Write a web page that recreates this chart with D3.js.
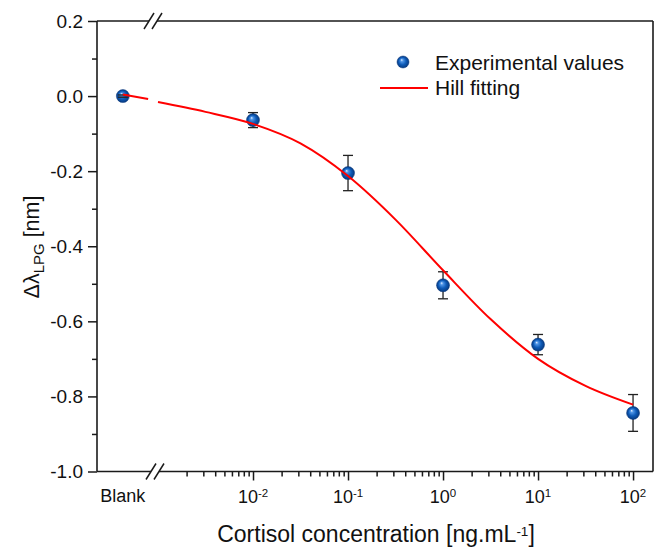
<!DOCTYPE html>
<html><head><meta charset="utf-8">
<script src="https://cdn.jsdelivr.net/npm/d3@7"></script>
<style>
body{margin:0;background:#fff}
svg{display:block}
text{font-family:"Liberation Sans",Arial,sans-serif;fill:#111}
</style>
</head><body>
<svg id="c" width="661" height="548"></svg>
<script>
// ---------------- data ----------------
const blankLabel = "Blank";
const blankValue = 0.0;
const blankError = 0.003;
const concentrations = [0.01, 0.1, 1, 10, 100];
const values = [-0.064, -0.205, -0.504, -0.662, -0.844];
const errors = [0.020, 0.047, 0.036, 0.027, 0.049];
// Hill fitting curve (every half decade)
const fitConc = [0.001, 0.00316, 0.01, 0.0316, 0.1, 0.316, 1, 3.16, 10, 31.6, 100];
const fitValues = [-0.016, -0.042, -0.074, -0.126, -0.213, -0.329, -0.464, -0.594, -0.700, -0.772, -0.822];
const blankFitValues = [0.004, -0.008];
const yTickValues = [-1.0, -0.8, -0.6, -0.4, -0.2, 0.0, 0.2];
const yMinorValues = [-0.9, -0.7, -0.5, -0.3, -0.1, 0.1];
const xTickExponents = [-2, -1, 0, 1, 2];
const legendLabels = ["Experimental values", "Hill fitting"];
const xTitle = "Cortisol concentration [ng.mL";
const yTitleParts = ["\u0394\u03bb", "LPG", " [nm]"];

// ---------------- layout ----------------
const L = 97, R = 653, T = 21, B = 471.5, BRK = 154;
const svg = d3.select("#c");
const axisColor = "#1a1a1a";

const y = d3.scaleLinear().domain([-1.0, 0.2]).range([B, T]);
const x = d3.scaleLog().domain([1e-3, Math.pow(10, 2.21)]).range([158, R]);
const xb = d3.scaleLinear().domain([0, 1]).range([L, BRK - 2]);
const blankPos = 0.47, blankFitEnd = 0.93;

const defs = svg.append("defs");
const g = defs.append("radialGradient").attr("id", "ball")
  .attr("cx", "50%").attr("cy", "50%").attr("r", "50%").attr("fx", "38%").attr("fy", "32%");
g.append("stop").attr("offset", "0%").attr("stop-color", "#e6f0ff");
g.append("stop").attr("offset", "22%").attr("stop-color", "#4f95e6");
g.append("stop").attr("offset", "60%").attr("stop-color", "#0e5bb8");
g.append("stop").attr("offset", "100%").attr("stop-color", "#073a80");

// ---------------- frame ----------------
const frame = svg.append("g").attr("stroke", axisColor).attr("stroke-width", 1.6).attr("fill", "none");
frame.append("line").attr("x1", L).attr("x2", L).attr("y1", T).attr("y2", B);
frame.append("line").attr("x1", R).attr("x2", R).attr("y1", T).attr("y2", B);
frame.append("line").attr("x1", L).attr("x2", R).attr("y1", T).attr("y2", T);
frame.append("line").attr("x1", L).attr("x2", R).attr("y1", B).attr("y2", B);

// y axis
const yAxis = d3.axisLeft(y).tickValues(yTickValues).tickSize(9).tickPadding(5)
  .tickFormat(d => d.toFixed(1).replace("-0.0", "0.0"));
const ya = svg.append("g").attr("transform", `translate(${L},0)`).call(yAxis);
ya.select(".domain").remove();
ya.selectAll(".tick line").attr("stroke", axisColor).attr("stroke-width", 1.5);
ya.selectAll(".tick text").attr("font-size", 19).attr("fill", "#111")
  .attr("font-family", "Liberation Sans, Arial, sans-serif");
const yMinor = d3.axisLeft(y).tickValues(yMinorValues).tickSize(5).tickFormat("");
const ym = svg.append("g").attr("transform", `translate(${L},0)`).call(yMinor);
ym.select(".domain").remove();
ym.selectAll(".tick line").attr("stroke", axisColor).attr("stroke-width", 1.5);

// x axis (log part)
const majors = xTickExponents.map(e => Math.pow(10, e));
const minors = [];
for (let e = -3; e <= 1; e++) for (let m = 2; m <= 9; m++) minors.push(m * Math.pow(10, e));
const xa = svg.append("g").attr("transform", `translate(0,${B})`)
  .call(d3.axisBottom(x).tickValues(majors).tickSize(9).tickFormat(""));
xa.select(".domain").remove();
xa.selectAll(".tick line").attr("stroke", axisColor).attr("stroke-width", 1.5);
const xm = svg.append("g").attr("transform", `translate(0,${B})`)
  .call(d3.axisBottom(x).tickValues(minors).tickSize(5).tickFormat(""));
xm.select(".domain").remove();
xm.selectAll(".tick line").attr("stroke", axisColor).attr("stroke-width", 1.5);

// x tick labels with superscripts
xTickExponents.forEach(e => {
  const t = svg.append("text").attr("x", x(Math.pow(10, e))).attr("y", B + 31.5)
    .attr("text-anchor", "middle").attr("font-size", 18);
  t.append("tspan").text("10");
  t.append("tspan").attr("dy", -6).attr("font-size", 11.5).text(String(e));
});
svg.append("text").attr("x", xb(blankPos)).attr("y", B + 30.5).attr("text-anchor", "middle")
  .attr("font-size", 18).text(blankLabel);

// axis breaks
function brk(cx, cy) {
  svg.append("rect").attr("x", cx - 4).attr("y", cy - 2).attr("width", 8).attr("height", 4).attr("fill", "#fff");
  [-4, 4].forEach(o => {
    svg.append("line").attr("x1", cx + o - 5).attr("y1", cy + 8).attr("x2", cx + o + 5).attr("y2", cy - 8)
      .attr("stroke", axisColor).attr("stroke-width", 1.5);
  });
}
brk(BRK - 1, T);
brk(BRK + 1, B);

// ---------------- data marks ----------------
const pts = concentrations.map((c, i) => ({ px: x(c), v: values[i], e: errors[i] }));
pts.unshift({ px: xb(blankPos), v: blankValue, e: blankError });

// error-bar stems (behind symbols)
svg.append("g").selectAll("line").data(pts).join("line")
  .attr("x1", d => d.px).attr("x2", d => d.px)
  .attr("y1", d => y(d.v + d.e)).attr("y2", d => y(d.v - d.e))
  .attr("stroke", "#222").attr("stroke-width", 1.3);

// symbols
svg.append("g").selectAll("circle").data(pts).join("circle")
  .attr("cx", d => d.px).attr("cy", d => y(d.v)).attr("r", 6.5)
  .attr("fill", "url(#ball)").attr("stroke", "#06357a").attr("stroke-width", 0.5);

// caps (on top)
const caps = svg.append("g").attr("stroke", "#222").attr("stroke-width", 1.3);
pts.forEach(d => {
  [d.v + d.e, d.v - d.e].forEach(v => {
    caps.append("line").attr("x1", d.px - 5).attr("x2", d.px + 5).attr("y1", y(v)).attr("y2", y(v));
  });
});

// fit curve
const fitLine = d3.line().x(d => x(d[0])).y(d => y(d[1])).curve(d3.curveMonotoneX);
svg.append("path").datum(fitConc.map((c, i) => [c, fitValues[i]]))
  .attr("d", fitLine).attr("fill", "none").attr("stroke", "#ff0000").attr("stroke-width", 2);
svg.append("line")
  .attr("x1", xb(blankPos)).attr("y1", y(blankFitValues[0]))
  .attr("x2", xb(blankFitEnd)).attr("y2", y(blankFitValues[1]))
  .attr("stroke", "#ff0000").attr("stroke-width", 2);

// ---------------- legend ----------------
svg.append("circle").attr("cx", 403).attr("cy", 62).attr("r", 6)
  .attr("fill", "url(#ball)").attr("stroke", "#06357a").attr("stroke-width", 0.5);
svg.append("text").attr("x", 435).attr("y", 69.5).attr("font-size", 21).text(legendLabels[0]);
svg.append("line").attr("x1", 380).attr("x2", 428).attr("y1", 88).attr("y2", 88)
  .attr("stroke", "#ff0000").attr("stroke-width", 2);
svg.append("text").attr("x", 435).attr("y", 94.5).attr("font-size", 21).text(legendLabels[1]);

// ---------------- titles ----------------
const xt = svg.append("text").attr("x", 376).attr("y", 541.5).attr("text-anchor", "middle").attr("font-size", 23);
xt.append("tspan").text(xTitle);
xt.append("tspan").attr("dy", -6).attr("font-size", 13.5).text("-1");
xt.append("tspan").attr("dy", 6).text("]");

const yt = svg.append("text").attr("transform", "translate(39,247) rotate(-90)")
  .attr("text-anchor", "middle").attr("font-size", 21.5);
yt.append("tspan").text(yTitleParts[0]);
yt.append("tspan").attr("dy", 5).attr("font-size", 15).text(yTitleParts[1]);
yt.append("tspan").attr("dy", -5).text(yTitleParts[2]);
</script>
</body></html>
